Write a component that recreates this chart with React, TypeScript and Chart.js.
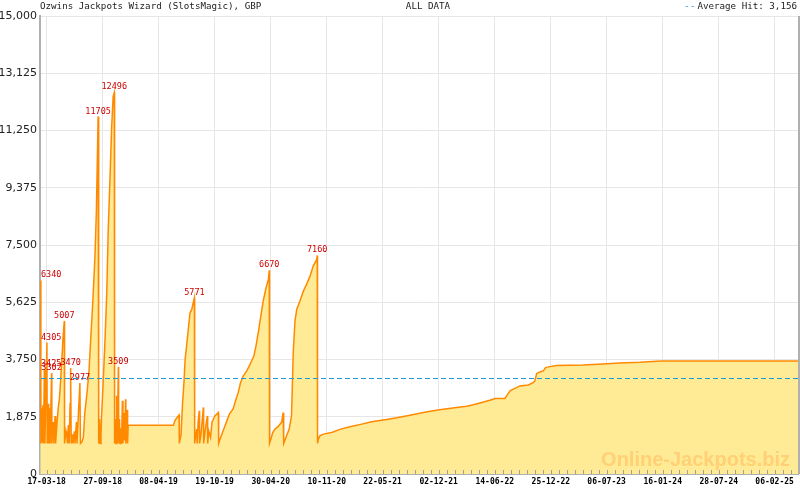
import React, { useEffect, useRef } from "react";
import { Chart, registerables } from "chart.js";

Chart.register(...registerables);

// ---- data ----
const chartTitle = "Ozwins Jackpots Wizard (SlotsMagic), GBP";
const rangeLabel = "ALL DATA";
const averageLabel = "Average Hit: ";
const averageHit = 3156;

// days are counted from this date
const START_DATE = "2018-03-17";
const AXIS_START_DAY = -23;
const AXIS_END_DAY = 2599;

const tickLabels = [
  "17-03-18", "27-09-18", "08-04-19", "19-10-19", "30-04-20", "10-11-20", "22-05-21",
  "02-12-21", "14-06-22", "25-12-22", "06-07-23", "16-01-24", "28-07-24", "06-02-25",
];

const yMax = 15000;
const yStep = 1875;

// day offset of every recorded jackpot reading
const hitDay = [
  -22, -20, -18, -16, -13, -11, -8, -6, 1, 2, 5, 7, 10, 12, 17, 18, 23, 25, 29, 31,
  36, 40, 44, 48, 53, 57, 61, 62, 67, 70, 72, 75, 78, 81, 83, 85, 89, 91, 96, 98,
  103, 105, 110, 115, 117, 122, 127, 132, 139, 146, 153, 160, 167, 172, 175, 178, 180, 183, 185, 188,
  190, 196, 202, 208, 213, 219, 225, 230, 234, 235, 238, 240, 242, 244, 248, 249, 252, 254, 257, 259,
  262, 264, 267, 269, 273, 274, 278, 280, 282, 438, 444, 451, 458, 459, 465, 470, 475, 479, 484, 490,
  496, 502, 507, 511, 512, 519, 521, 524, 528, 529, 534, 542, 543, 551, 556, 557, 561, 567, 572, 582,
  594, 595, 600, 606, 617, 632, 645, 655, 663, 671, 680, 692, 701, 709, 717, 724, 732, 740, 749, 759,
  767, 770, 771, 776, 782, 790, 801, 813, 818, 820, 824, 830, 839, 847, 853, 859, 865, 876, 888, 899,
  911, 922, 934, 936, 937, 940, 945, 957, 986, 1017, 1049, 1090, 1124, 1176, 1211, 1257, 1303, 1337, 1372, 1418,
  1453, 1476, 1505, 1533, 1551, 1585, 1591, 1603, 1614, 1637, 1666, 1683, 1689, 1695, 1706, 1718, 1726, 1741, 1764, 1856,
  1925, 1983, 2052, 2127, 2599,
];

const jackpotValue = [
  6340, 1000, 2150, 1050, 2250, 1000, 3425, 1000, 4305, 1000, 2300, 1000, 2150, 1000, 3302, 1000, 1700, 1000, 1900, 1000,
  1700, 2150, 2450, 3000, 3810, 4520, 5007, 1000, 1400, 1250, 1000, 1600, 1000, 2300, 3470, 1000, 1300, 1000, 1400, 1000,
  1700, 1000, 2000, 2977, 1000, 1050, 1200, 2000, 2600, 3300, 4500, 5700, 7100, 8600, 10100, 11705, 1000, 1800, 1000, 1300,
  1900, 3100, 4410, 5940, 8000, 9640, 11380, 12360, 12496, 1000, 1800, 1000, 2560, 1000, 3509, 1000, 1800, 1000, 1500, 1000,
  2400, 1000, 2000, 1100, 2450, 1000, 2100, 1000, 1600, 1600, 1750, 1850, 1930, 1000, 1300, 2300, 3000, 3760, 4190, 4740,
  5280, 5390, 5610, 5771, 1000, 1470, 1000, 1700, 2070, 1000, 1300, 2180, 1000, 1600, 1900, 1000, 1400, 1200, 1700, 1900,
  2010, 1000, 1150, 1300, 1580, 1960, 2130, 2450, 2680, 3000, 3210, 3380, 3540, 3700, 3870, 4190, 4630, 5120, 5660, 6100,
  6370, 6670, 1000, 1150, 1360, 1470, 1560, 1700, 2010, 1000, 1100, 1250, 1470, 1900, 3980, 5010, 5390, 5660, 5990, 6210,
  6480, 6810, 7020, 7160, 1000, 1143, 1250, 1307, 1361, 1470, 1546, 1634, 1710, 1787, 1840, 1927, 2014, 2069, 2124, 2178,
  2222, 2265, 2341, 2417, 2472, 2472, 2559, 2722, 2777, 2886, 2918, 2995, 3049, 3288, 3342, 3375, 3484, 3517, 3550, 3571,
  3604, 3636, 3658, 3702, 3702,
];

// peaks that carry a value label
const labeledPeaks = [6340, 3425, 4305, 3302, 5007, 3470, 2977, 11705, 12496, 3509, 5771, 6670, 7160];

// ---- styles ----
const LINE_COLOR = "#ff8a00";
const FILL_COLOR = "#ffeb96";
const AVG_COLOR = "#1e9ad6";
const GRID_COLOR = "#e6e6e6";
const AXIS_COLOR = "#b0b0b0";
const TEXT_COLOR = "#222222";
const PEAK_COLOR = "#cc0000";

function dayOf(label: string): number {
  const [dd, mm, yy] = label.split("-").map(Number);
  const base = Date.parse(START_DATE + "T00:00:00Z");
  return Math.round((Date.UTC(2000 + yy, mm - 1, dd) - base) / 86400000);
}

const tickDays = tickLabels.map(dayOf);

const decorations = {
  id: "decorations",
  afterDatasetsDraw(chart: any) {
    const { ctx, chartArea, scales } = chart;
    const xs = scales.x;
    const ys = scales.y;
    ctx.save();

    // watermark
    ctx.font = "bold 20px 'Liberation Sans', Arial, sans-serif";
    ctx.fillStyle = "rgba(255, 190, 95, 0.6)";
    ctx.textAlign = "right";
    ctx.textBaseline = "alphabetic";
    ctx.fillText("Online-Jackpots.biz", 790, 466);

    // average line
    const ay = Math.round(ys.getPixelForValue(averageHit)) + 0.5;
    ctx.strokeStyle = AVG_COLOR;
    ctx.lineWidth = 1;
    ctx.setLineDash([5, 3]);
    ctx.beginPath();
    ctx.moveTo(chartArea.left + 1, ay);
    ctx.lineTo(chartArea.right, ay);
    ctx.stroke();
    ctx.setLineDash([]);

    // minor ticks along the time axis
    const span = (tickDays[1] - tickDays[0]) / 7;
    ctx.strokeStyle = "#a0a0a0";
    ctx.lineWidth = 1;
    const minorDays: number[] = [];
    for (let d = tickDays[0]; d >= AXIS_START_DAY; d -= span) minorDays.push(d);
    for (let i = 0; i < tickDays.length - 1; i++) {
      const step = (tickDays[i + 1] - tickDays[i]) / 7;
      for (let k = 1; k <= 7; k++) minorDays.push(tickDays[i] + k * step);
    }
    for (let d = tickDays[tickDays.length - 1] + span; d <= AXIS_END_DAY; d += span) minorDays.push(d);
    ctx.beginPath();
    for (const d of minorDays) {
      const px = Math.round(xs.getPixelForValue(d)) + 0.5;
      ctx.moveTo(px, chartArea.bottom - 4);
      ctx.lineTo(px, chartArea.bottom);
    }
    ctx.stroke();

    // right border
    ctx.strokeStyle = AXIS_COLOR;
    ctx.lineWidth = 2;
    ctx.beginPath();
    ctx.moveTo(chartArea.right + 1, chartArea.top);
    ctx.lineTo(chartArea.right + 1, chartArea.bottom);
    ctx.stroke();

    // peak labels
    ctx.font = "8.5px 'DejaVu Sans Mono', monospace";
    ctx.fillStyle = PEAK_COLOR;
    ctx.textAlign = "left";
    ctx.textBaseline = "bottom";
    for (let i = 0; i < jackpotValue.length; i++) {
      const v = jackpotValue[i];
      if (!labeledPeaks.includes(v)) continue;
      const px = xs.getPixelForValue(hitDay[i]);
      const py = ys.getPixelForValue(v);
      const text = String(v);
      const w = ctx.measureText(text).width;
      let left = px - w / 2;
      if (left < chartArea.left + 1) left = chartArea.left + 1;
      if (left + w > chartArea.right - 1) left = chartArea.right - 1 - w;
      ctx.fillText(text, left, py - 1);
    }

    // header texts
    ctx.font = "9.2px 'DejaVu Sans Mono', monospace";
    ctx.fillStyle = TEXT_COLOR;
    ctx.textBaseline = "middle";
    ctx.textAlign = "left";
    ctx.fillText(chartTitle, 40, 7);
    ctx.textAlign = "center";
    ctx.fillText(rangeLabel, 428, 7);
    ctx.textAlign = "right";
    const avgText = averageLabel + averageHit.toLocaleString("en-US");
    ctx.fillText(avgText, 797, 7);
    const tw = ctx.measureText(avgText).width;
    ctx.fillStyle = AVG_COLOR;
    ctx.fillText("--", 797 - tw - 2, 7);

    ctx.restore();
  },
};

export default function App() {
  const ref = useRef<HTMLCanvasElement | null>(null);

  useEffect(() => {
    document.body.style.margin = "0";
    const canvas = ref.current;
    if (!canvas) return;
    const points = hitDay.map((d, i) => ({ x: d, y: jackpotValue[i] }));
    const chart = new Chart(canvas, {
      type: "line",
      data: {
        datasets: [
          {
            data: points,
            borderColor: LINE_COLOR,
            backgroundColor: FILL_COLOR,
            borderWidth: 1.5,
            pointRadius: 0,
            tension: 0,
            fill: "origin",
          },
        ],
      },
      options: {
        animation: false,
        responsive: false,
        events: [],
        layout: { padding: { top: 16, right: 2, left: 0, bottom: 0 } },
        plugins: { legend: { display: false }, tooltip: { enabled: false }, title: { display: false } },
        scales: {
          x: {
            type: "linear",
            min: AXIS_START_DAY,
            max: AXIS_END_DAY,
            afterBuildTicks: (scale: any) => {
              scale.ticks = tickDays.map((v) => ({ value: v }));
            },
            afterFit: (scale: any) => {
              scale.height = 16;
            },
            ticks: {
              autoSkip: false,
              maxRotation: 0,
              minRotation: 0,
              padding: 3,
              color: "#000",
              font: { family: "'DejaVu Sans Mono', monospace", size: 8, weight: "bold" },
              callback: (_v: any, index: number) => tickLabels[index],
            },
            grid: { color: GRID_COLOR, drawTicks: false, lineWidth: 1 },
            border: { display: true, color: AXIS_COLOR, width: 2 },
          },
          y: {
            min: 0,
            max: yMax,
            afterFit: (scale: any) => {
              scale.width = 40;
            },
            ticks: {
              stepSize: yStep,
              padding: 3,
              color: TEXT_COLOR,
              font: { family: "'DejaVu Sans', sans-serif", size: 11 },
              callback: (v: any) => Number(v).toLocaleString("en-US"),
            },
            grid: { color: GRID_COLOR, drawTicks: false, lineWidth: 1 },
            border: { display: true, color: AXIS_COLOR, width: 2 },
          },
        },
      },
      plugins: [decorations],
    });
    return () => chart.destroy();
  }, []);

  return (
    <div style={{ width: 800, height: 490 }}>
      <canvas ref={ref} width={800} height={490} style={{ display: "block", width: 800, height: 490 }} />
    </div>
  );
}
